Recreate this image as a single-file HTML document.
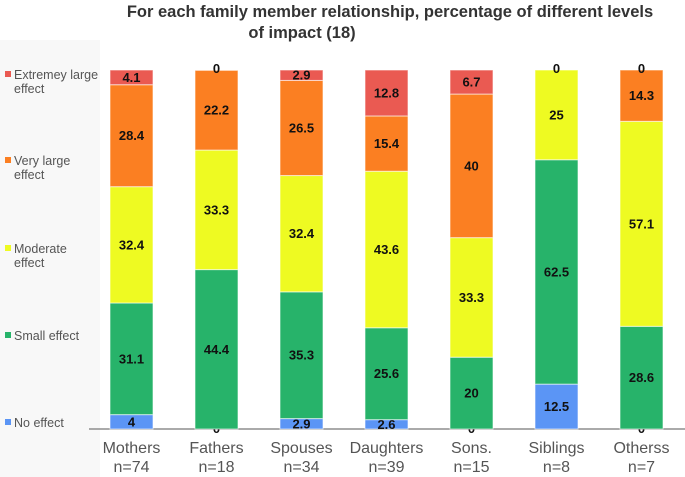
<!DOCTYPE html>
<html><head><meta charset="utf-8"><style>
body{margin:0;background:#fff;font-family:"Liberation Sans",Arial,sans-serif}
svg{display:block}
</style></head><body>
<svg id="chart" width="685" height="477">
<rect x="0" y="40" width="100" height="437" fill="#f8f8f8"/>
<text x="390" y="17" text-anchor="middle" font-size="16.5" font-weight="bold" fill="#333">For each family member relationship, percentage of different levels</text>
<text x="302" y="38" text-anchor="middle" font-size="16.5" font-weight="bold" fill="#333">of impact (18)</text>
<line x1="89" y1="429" x2="685" y2="429" stroke="#777" stroke-width="1.2"/>
<g id="bars"></g>
<g id="legend"></g>
<g id="xlabels"></g>
</svg>
<script>
const categories=["Mothers","Fathers","Spouses","Daughters","Sons.","Siblings","Otherss"];
const counts=["n=74","n=18","n=34","n=39","n=15","n=8","n=7"];
const seriesNames=["No effect","Small effect","Moderate effect","Very large effect","Extremey large effect"];
const noEffect=[4,0,2.9,2.6,0,12.5,0];
const smallEffect=[31.1,44.4,35.3,25.6,20,62.5,28.6];
const moderateEffect=[32.4,33.3,32.4,43.6,33.3,25,57.1];
const veryLarge=[28.4,22.2,26.5,15.4,40,0,14.3];
const extremeLarge=[4.1,0,2.9,12.8,6.7,0,0];
const series=[noEffect,smallEffect,moderateEffect,veryLarge,extremeLarge];
const colors=["#5b95f5","#27b36a","#eefa22","#fb7f22","#ea5a52"];
const NS="http://www.w3.org/2000/svg";
const y0=429,y1=70,x0=110,step=85,bw=43;
const yScale=v=>y0-(v/100)*(y0-y1);
const xScale=i=>x0+i*step;
function mk(tag,attrs,parent){const e=document.createElementNS(NS,tag);for(const k in attrs)e.setAttribute(k,attrs[k]);parent.appendChild(e);return e;}
const bars=document.getElementById('bars');
categories.forEach((c,i)=>{
  let cum=0;
  series.forEach((s,j)=>{
    const v=s[i];
    const yt=yScale(cum+v),yb=yScale(cum);
    if(v>0){
      const r=mk('rect',{x:xScale(i),y:yt,width:bw,height:yb-yt,fill:colors[j],stroke:'rgba(255,255,255,0.6)','stroke-width':1},bars);
      
      
    }
    let show=v>0||j===0||j===4;
    let ly=(yt+yb)/2+4.5;
    if(v===0){ly=(j===0)?y0+4:yScale(100)+3;}
    if(show){
      const t=mk('text',{x:xScale(i)+bw/2,y:ly,'text-anchor':'middle','font-size':13,'font-weight':'bold',fill:'#111'},bars);
      t.textContent=String(v);
      
      
    }
    cum+=v;
  });
});
const xl=document.getElementById('xlabels');
categories.forEach((c,i)=>{
  const t=mk('text',{x:xScale(i)+bw/2,y:453,'text-anchor':'middle','font-size':16,fill:'#555'},xl);
  t.textContent=c;
  
  
  const n=mk('text',{x:xScale(i)+bw/2,y:472,'text-anchor':'middle','font-size':16,fill:'#555'},xl);
  n.textContent=counts[i];
  
  
});
const lg=document.getElementById('legend');
const legY=[424,337,250,162,76];
const legLines=[["No effect"],["Small effect"],["Moderate","effect"],["Very large","effect"],["Extremey large","effect"]];
seriesNames.forEach((s,j)=>{
  const g=mk('g',{},lg);
  
  
  mk('rect',{x:5,y:legY[j]-5,width:6,height:6,fill:colors[j]},g);
  legLines[j].forEach((ln,k)=>{
    const t=mk('text',{x:14,y:legY[j]+3+k*14,'font-size':12.5,fill:'#555'},g);
    t.textContent=ln;
  });
});
</script>
</body></html>
